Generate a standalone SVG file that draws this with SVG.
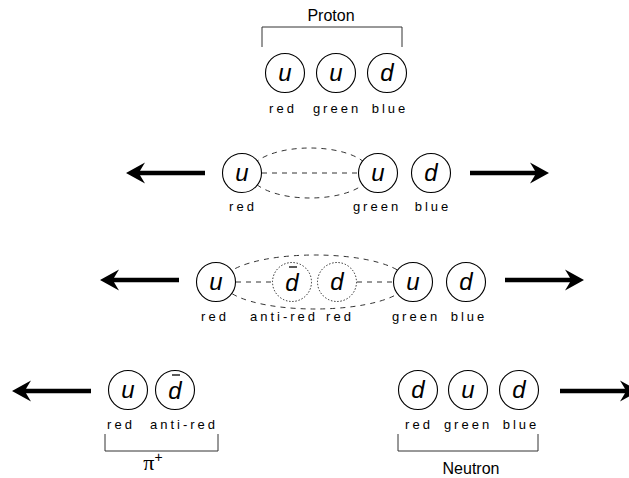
<svg xmlns="http://www.w3.org/2000/svg" width="629" height="478" viewBox="0 0 629 478">
<style>
  .q{fill:#fff;stroke:#000;stroke-width:1.1}
  .qv{fill:#fff;stroke:#222;stroke-width:1;stroke-dasharray:1.4 1.8}
  .qt{font-family:"Liberation Sans",Arial,sans-serif;font-style:italic;font-size:24px;text-anchor:middle;fill:#000}
  .lbl{font-family:"Liberation Sans",Arial,sans-serif;font-size:13px;letter-spacing:3px;text-anchor:middle;fill:#000}
  .ttl{font-family:"Liberation Sans",Arial,sans-serif;font-size:16px;text-anchor:middle;fill:#000}
  .flux{fill:none;stroke:#333;stroke-width:1;stroke-dasharray:5 5}
  .br{fill:none;stroke:#333;stroke-width:1}
  .bar{stroke:#000;stroke-width:1.3}
</style>
<defs>
  <!-- thick arrow pointing right, tail at origin, concave head -->
  <path id="arrow" d="M0,-2.2 H65 L60,-10.5 L79,0 L60,10.5 L65,2.2 H0 Z" fill="#000"/>
</defs>

<!-- connectors: colour flux tubes, brackets, motion arrows -->
<g id="connectors">
  <!-- row 2 flux between u(red) and u(green) -->
  <ellipse class="flux" cx="310" cy="173" rx="60" ry="25"/>
  <line class="flux" x1="262" y1="173" x2="358" y2="173"/>
  <!-- row 3 flux through the new d-dbar pair -->
  <ellipse class="flux" cx="315" cy="282" rx="92" ry="27"/>
  <line class="flux" x1="236" y1="282" x2="272" y2="282"/>
  <line class="flux" x1="357" y1="282" x2="394" y2="282"/>
  <!-- brackets -->
  <path class="br" d="M262,47 V27 H402 V47"/>
  <path class="br" d="M105,434 V451 H218 V434"/>
  <path class="br" d="M398,434 V451 H538 V434"/>
  <!-- arrows -->
  <use href="#arrow" transform="translate(205,173) scale(-1,1)"/>
  <use href="#arrow" transform="translate(470,173)"/>
  <use href="#arrow" transform="translate(179,280) scale(-1,1)"/>
  <use href="#arrow" transform="translate(505,280)"/>
  <use href="#arrow" transform="translate(91,391) scale(-1,1)"/>
  <use href="#arrow" transform="translate(560,391)"/>
</g>

<!-- row 1: proton -->
<text class="ttl" x="331" y="21">Proton</text>
<g id="p-u1"><circle class="q" cx="285" cy="73" r="19.5"/><text class="qt" x="285" y="81">u</text><text class="lbl" x="283" y="113">red</text></g>
<g id="p-u2"><circle class="q" cx="336" cy="73" r="19.5"/><text class="qt" x="336" y="81">u</text><text class="lbl" x="337" y="113">green</text></g>
<g id="p-d"><circle class="q" cx="387" cy="73" r="19.5"/><text class="qt" x="387" y="81">d</text><text class="lbl" x="390" y="113">blue</text></g>

<!-- row 2: quarks pulled apart -->
<g id="s-u1"><circle class="q" cx="242" cy="173" r="19.5"/><text class="qt" x="242" y="181">u</text><text class="lbl" x="243" y="211">red</text></g>
<g id="s-u2"><circle class="q" cx="378" cy="173" r="19.5"/><text class="qt" x="378" y="181">u</text><text class="lbl" x="377" y="211">green</text></g>
<g id="s-d"><circle class="q" cx="431" cy="173" r="19.5"/><text class="qt" x="431" y="181">d</text><text class="lbl" x="433" y="211">blue</text></g>

<!-- row 3: pair creation -->
<g id="c-u1"><circle class="q" cx="216" cy="282" r="19.5"/><text class="qt" x="216" y="290">u</text><text class="lbl" x="215" y="321">red</text></g>
<g id="c-dbar"><circle class="qv" cx="292" cy="282" r="19.5"/><text class="qt" x="292" y="291">d</text><line class="bar" x1="289" y1="267" x2="297" y2="267"/><text class="lbl" x="284" y="321">anti-red</text></g>
<g id="c-d"><circle class="qv" cx="337" cy="282" r="19.5"/><text class="qt" x="337" y="290">d</text><text class="lbl" x="340" y="321">red</text></g>
<g id="c-u2"><circle class="q" cx="413" cy="282" r="19.5"/><text class="qt" x="413" y="290">u</text><text class="lbl" x="416" y="321">green</text></g>
<g id="c-d2"><circle class="q" cx="466" cy="282" r="19.5"/><text class="qt" x="466" y="290">d</text><text class="lbl" x="469" y="321">blue</text></g>

<!-- row 4: pion and neutron -->
<g id="pi-u"><circle class="q" cx="128" cy="390" r="19.5"/><text class="qt" x="128" y="398">u</text><text class="lbl" x="121" y="429">red</text></g>
<g id="pi-dbar"><circle class="q" cx="175" cy="390" r="19.5"/><text class="qt" x="175" y="399">d</text><line class="bar" x1="172" y1="375" x2="180" y2="375"/><text class="lbl" x="184" y="429">anti-red</text></g>
<text x="153" y="470" font-family="'Liberation Serif',serif" font-size="22" text-anchor="middle">π<tspan font-family="'Liberation Sans',sans-serif" font-size="14" dy="-8">+</tspan></text>

<g id="n-d1"><circle class="q" cx="418" cy="390" r="19.5"/><text class="qt" x="418" y="398">d</text><text class="lbl" x="419" y="429">red</text></g>
<g id="n-u"><circle class="q" cx="468" cy="390" r="19.5"/><text class="qt" x="468" y="398">u</text><text class="lbl" x="468" y="429">green</text></g>
<g id="n-d2"><circle class="q" cx="519" cy="390" r="19.5"/><text class="qt" x="519" y="398">d</text><text class="lbl" x="521" y="429">blue</text></g>
<text class="ttl" x="471" y="474">Neutron</text>
</svg>
